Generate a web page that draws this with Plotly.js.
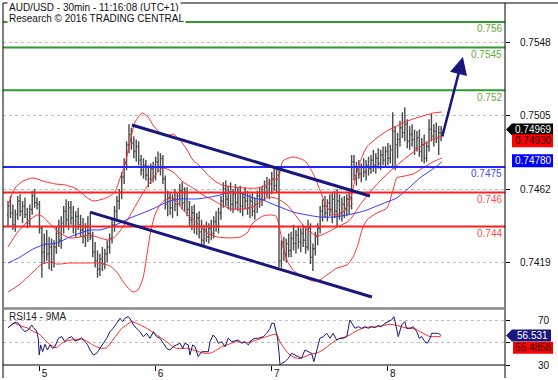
<!DOCTYPE html>
<html><head><meta charset="utf-8">
<script src="https://cdn.plot.ly/plotly-3.0.1.min.js"></script>
<style>html,body{margin:0;padding:0;background:#fff;}#chart{width:558px;height:380px;}</style>
</head><body><div id="chart"></div>
<script>
// ---------- DATA ----------
const dayTickIdx = [13, 61, 109, 157];
const dayLabels = ['5', '6', '7', '8'];
const priceTicks = [0.7419, 0.7462, 0.7505, 0.7548];
const priceTickLabels = ['0.7419', '0.7462', '0.7505', '0.7548'];

const barOpen = [
0.7447,0.7452,0.7448,0.7441,0.7447,0.7455,0.7449,0.7452,0.7447,0.7442,
0.7450,0.7458,0.7454,0.7453,0.7439,0.7425,0.7430,0.7424,0.7428,0.7419,
0.7428,0.7436,0.7432,0.7442,0.7449,0.7444,0.7451,0.7445,0.7440,0.7446,
0.7441,0.7438,0.7434,0.7440,0.7436,0.7434,0.7425,0.7420,0.7415,0.7421,
0.7418,0.7424,0.7428,0.7433,0.7441,0.7449,0.7455,0.7460,0.7469,0.7477,
0.7488,0.7494,0.7489,0.7484,0.7487,0.7479,0.7473,0.7476,0.7470,0.7468,
0.7474,0.7469,0.7478,0.7475,0.7480,0.7468,0.7453,0.7457,0.7451,0.7456,
0.7453,0.7458,0.7461,0.7454,0.7460,0.7450,0.7444,0.7448,0.7440,0.7445,
0.7437,0.7432,0.7438,0.7434,0.7439,0.7436,0.7443,0.7440,0.7448,0.7455,
0.7462,0.7456,0.7460,0.7453,0.7459,0.7454,0.7460,0.7452,0.7457,0.7455,
0.7451,0.7455,0.7449,0.7453,0.7458,0.7456,0.7460,0.7463,0.7460,0.7465,
0.7468,0.7464,0.7470,0.7420,0.7428,0.7424,0.7430,0.7426,0.7433,0.7430,
0.7435,0.7431,0.7436,0.7432,0.7428,0.7439,0.7422,0.7427,0.7434,0.7439,
0.7449,0.7452,0.7448,0.7454,0.7450,0.7456,0.7449,0.7455,0.7448,0.7453,
0.7450,0.7456,0.7452,0.7478,0.7470,0.7474,0.7471,0.7475,0.7472,0.7476,
0.7474,0.7479,0.7476,0.7480,0.7477,0.7482,0.7479,0.7484,0.7480,0.7485,
0.7496,0.7488,0.7491,0.7498,0.7495,0.7500,0.7490,0.7494,0.7491,0.7486,
0.7492,0.7484,0.7488,0.7480,0.7487,0.7497,0.7493,0.7496,0.7492,0.7495];
const barHigh = [
0.7455,0.7458,0.7453,0.7450,0.7458,0.7459,0.7455,0.7457,0.7451,0.7453,
0.7461,0.7462,0.7457,0.7455,0.7440,0.7436,0.7438,0.7434,0.7433,0.7432,
0.7440,0.7444,0.7446,0.7452,0.7456,0.7455,0.7455,0.7452,0.7449,0.7451,
0.7447,0.7445,0.7442,0.7446,0.7448,0.7437,0.7431,0.7426,0.7424,0.7428,
0.7427,0.7432,0.7436,0.7444,0.7452,0.7458,0.7462,0.7472,0.7480,0.7490,
0.7500,0.7498,0.7493,0.7491,0.7490,0.7482,0.7480,0.7479,0.7476,0.7477,
0.7478,0.7481,0.7484,0.7483,0.7482,0.7470,0.7461,0.7460,0.7459,0.7462,
0.7460,0.7465,0.7466,0.7463,0.7463,0.7455,0.7452,0.7453,0.7448,0.7449,
0.7444,0.7441,0.7443,0.7442,0.7444,0.7446,0.7449,0.7451,0.7458,0.7466,
0.7467,0.7464,0.7466,0.7462,0.7465,0.7463,0.7464,0.7460,0.7463,0.7461,
0.7459,0.7460,0.7457,0.7461,0.7463,0.7464,0.7467,0.7469,0.7468,0.7472,
0.7474,0.7474,0.7473,0.7432,0.7434,0.7433,0.7436,0.7437,0.7441,0.7438,
0.7440,0.7439,0.7441,0.7440,0.7444,0.7442,0.7430,0.7437,0.7442,0.7452,
0.7456,0.7458,0.7456,0.7459,0.7460,0.7461,0.7462,0.7459,0.7457,0.7458,
0.7459,0.7460,0.7482,0.7482,0.7478,0.7479,0.7477,0.7480,0.7479,0.7481,
0.7482,0.7485,0.7483,0.7486,0.7485,0.7487,0.7487,0.7489,0.7488,0.7507,
0.7499,0.7495,0.7502,0.7507,0.7510,0.7503,0.7499,0.7500,0.7497,0.7496,
0.7497,0.7492,0.7494,0.7490,0.7503,0.7506,0.7500,0.7501,0.7499,0.7499];
const barLow = [
0.7440,0.7445,0.7438,0.7437,0.7444,0.7446,0.7442,0.7445,0.7439,0.7440,
0.7447,0.7451,0.7450,0.7436,0.7410,0.7418,0.7420,0.7415,0.7414,0.7416,
0.7424,0.7428,0.7427,0.7436,0.7440,0.7438,0.7441,0.7436,0.7434,0.7438,
0.7434,0.7430,0.7428,0.7431,0.7432,0.7422,0.7416,0.7410,0.7411,0.7414,
0.7415,0.7419,0.7424,0.7430,0.7437,0.7443,0.7450,0.7456,0.7465,0.7473,
0.7483,0.7485,0.7480,0.7478,0.7476,0.7470,0.7468,0.7467,0.7463,0.7465,
0.7466,0.7467,0.7472,0.7470,0.7465,0.7450,0.7446,0.7447,0.7445,0.7449,
0.7446,0.7452,0.7450,0.7449,0.7446,0.7440,0.7438,0.7436,0.7435,0.7433,
0.7428,0.7429,0.7431,0.7430,0.7432,0.7433,0.7437,0.7436,0.7444,0.7451,
0.7452,0.7450,0.7449,0.7448,0.7450,0.7449,0.7448,0.7446,0.7450,0.7447,
0.7445,0.7446,0.7444,0.7448,0.7451,0.7452,0.7455,0.7457,0.7456,0.7459,
0.7461,0.7460,0.7416,0.7416,0.7420,0.7419,0.7422,0.7422,0.7426,0.7424,
0.7427,0.7425,0.7428,0.7424,0.7426,0.7418,0.7414,0.7423,0.7429,0.7436,
0.7443,0.7445,0.7443,0.7446,0.7442,0.7445,0.7440,0.7444,0.7443,0.7445,
0.7446,0.7447,0.7450,0.7467,0.7464,0.7468,0.7466,0.7469,0.7467,0.7470,
0.7471,0.7472,0.7471,0.7474,0.7473,0.7476,0.7475,0.7476,0.7477,0.7474,
0.7473,0.7480,0.7487,0.7492,0.7490,0.7486,0.7485,0.7487,0.7482,0.7484,
0.7481,0.7478,0.7477,0.7478,0.7484,0.7490,0.7487,0.7489,0.7482,0.7490];
const barClose = [
0.7452,0.7448,0.7441,0.7447,0.7455,0.7449,0.7452,0.7447,0.7442,0.7450,
0.7458,0.7454,0.7453,0.7439,0.7425,0.7430,0.7424,0.7428,0.7419,0.7428,
0.7436,0.7432,0.7442,0.7449,0.7444,0.7451,0.7445,0.7440,0.7446,0.7441,
0.7438,0.7434,0.7440,0.7436,0.7434,0.7425,0.7420,0.7415,0.7421,0.7418,
0.7424,0.7428,0.7433,0.7441,0.7449,0.7455,0.7460,0.7469,0.7477,0.7488,
0.7494,0.7489,0.7484,0.7487,0.7479,0.7473,0.7476,0.7470,0.7468,0.7474,
0.7469,0.7478,0.7475,0.7480,0.7468,0.7453,0.7457,0.7451,0.7456,0.7453,
0.7458,0.7461,0.7454,0.7460,0.7450,0.7444,0.7448,0.7440,0.7445,0.7437,
0.7432,0.7438,0.7434,0.7439,0.7436,0.7443,0.7440,0.7448,0.7455,0.7462,
0.7456,0.7460,0.7453,0.7459,0.7454,0.7460,0.7452,0.7457,0.7455,0.7451,
0.7455,0.7449,0.7453,0.7458,0.7456,0.7460,0.7463,0.7460,0.7465,0.7468,
0.7464,0.7470,0.7420,0.7428,0.7424,0.7430,0.7426,0.7433,0.7430,0.7435,
0.7431,0.7436,0.7432,0.7428,0.7439,0.7422,0.7427,0.7434,0.7439,0.7449,
0.7452,0.7448,0.7454,0.7450,0.7456,0.7449,0.7455,0.7448,0.7453,0.7450,
0.7456,0.7452,0.7478,0.7470,0.7474,0.7471,0.7475,0.7472,0.7476,0.7474,
0.7479,0.7476,0.7480,0.7477,0.7482,0.7479,0.7484,0.7480,0.7485,0.7496,
0.7488,0.7491,0.7498,0.7495,0.7500,0.7490,0.7494,0.7491,0.7486,0.7492,
0.7484,0.7488,0.7480,0.7487,0.7497,0.7493,0.7496,0.7492,0.7495,0.74969];

// Bollinger bands
const bbUpperX = [0,2.9,6.2,10.3,14.5,19.4,23.6,28.5,31.8,35.1,39.3,42.1,44.2,46.3,48.3,50.4,52.5,55.4,57.9,59.9,62.8,65.7,68.2,71.1,74.0,76.4,79.3,82.2,85.5,88.4,93.0,97.9,102.9,106.6,109.1,111.6,113.6,117.8,122.7,126.0,128.9,131.8,135.1,138.4,141.3,143.4,145.5,148.3,152.5,156.6,159.9,163.2,167.4,171.5,175.6,179.3];
const bbUpper = [0.74527,0.74626,0.74667,0.74685,0.74667,0.74650,0.74644,0.74620,0.74579,0.74550,0.74562,0.74579,0.74603,0.74685,0.74761,0.74896,0.75013,0.75066,0.75043,0.74996,0.74949,0.74931,0.74943,0.74908,0.74849,0.74790,0.74755,0.74708,0.74667,0.74644,0.74632,0.74626,0.74626,0.74644,0.74673,0.74680,0.74785,0.74808,0.74785,0.74714,0.74615,0.74515,0.74468,0.74485,0.74556,0.74673,0.74779,0.74867,0.74920,0.74961,0.74984,0.75008,0.75031,0.75049,0.75066,0.75072];
const bbMidX = [0,3.7,7.9,12.0,14.0,17.4,21.5,25.6,29.8,33.9,38.0,42.1,45.0,48.3,51.7,55.8,59.9,64.0,68.2,72.3,76.4,80.6,84.7,88.8,93.0,97.1,101.2,105.4,108.3,111.6,115.3,119.4,123.6,128.1,132.2,136.8,140.9,145.5,150.0,155.0,159.9,164.9,169.8,174.4,179.3];
const bbMid = [0.74280,0.74362,0.74427,0.74468,0.74462,0.74415,0.74362,0.74333,0.74339,0.74351,0.74333,0.74321,0.74351,0.74415,0.74497,0.74597,0.74685,0.74744,0.74720,0.74662,0.74626,0.74585,0.74556,0.74521,0.74503,0.74503,0.74515,0.74556,0.74573,0.74562,0.74527,0.74456,0.74380,0.74345,0.74368,0.74403,0.74433,0.74527,0.74609,0.74685,0.74749,0.74808,0.74861,0.74905,0.74930];
const bbLowerX = [0,5.0,10.3,14.0,17.4,20.2,25.6,31.8,38.0,42.1,45.0,47.1,49.2,51.7,53.7,55.8,57.4,58.7,60.7,62.8,64.9,67.8,70.2,72.3,75.2,78.1,82.2,86.4,91.7,95.9,98.8,101.2,105.4,108.3,110.7,112.4,113.6,115.3,117.8,121.9,126.0,128.9,131.8,136.0,140.1,142.6,144.6,146.3,148.3,152.5,156.6,159.1,160.7,164.0,167.4,171.5,175.6,179.3];
const bbLower = [0.74016,0.74063,0.74133,0.74180,0.74192,0.74180,0.74186,0.74186,0.74186,0.74169,0.74133,0.74087,0.74046,0.74016,0.74028,0.74098,0.74233,0.74351,0.74468,0.74527,0.74556,0.74568,0.74538,0.74497,0.74456,0.74421,0.74362,0.74339,0.74333,0.74339,0.74362,0.74421,0.74462,0.74468,0.74462,0.74380,0.74292,0.74203,0.74145,0.74104,0.74081,0.74087,0.74116,0.74157,0.74175,0.74221,0.74292,0.74380,0.74439,0.74480,0.74509,0.74614,0.74685,0.74697,0.74708,0.74744,0.74779,0.74802];
// blue moving average
const maX = [0,5.0,10.3,14.5,20.2,25.6,29.8,33.9,38.0,42.1,46.3,50.4,55.8,61.6,65.7,71.1,78.1,83.5,87.6,91.7,95.9,101.2,105.4,108.3,112.4,117.8,123.6,128.9,134.3,140.1,144.2,148.3,152.5,156.6,160.7,166.1,170.2,174.4,177.3,179.3];
const maVal = [0.74186,0.74221,0.74268,0.74292,0.74304,0.74339,0.74362,0.74380,0.74380,0.74397,0.74421,0.74450,0.74480,0.74515,0.74544,0.74562,0.74562,0.74573,0.74585,0.74603,0.74597,0.74568,0.74556,0.74538,0.74515,0.74485,0.74468,0.74456,0.74456,0.74468,0.74480,0.74497,0.74521,0.74544,0.74568,0.74632,0.74685,0.74726,0.74755,0.74780];

// RSI14 and its 9-period MA
const rsiX = [0,1.5,2.9,4.3,5.6,7.0,8.4,9.8,10.5,11.8,12.5,12.9,13.5,14.3,15.3,16.3,17.4,18.4,19.4,20.8,22.2,23.5,24.9,26.3,27.7,29.1,30.4,31.8,32.8,33.9,35.3,36.6,38.0,39.4,40.8,42.1,43.5,44.9,46.3,47.4,48.3,49.7,51.1,51.8,53.2,54.5,55.9,57.3,58.7,60.1,61.4,62.8,64.2,65.6,66.9,68.3,69.7,71.1,72.2,73.1,74.5,75.2,76.3,77.3,78.6,80.0,81.4,82.8,83.5,84.8,86.0,86.9,88.3,89.7,91.0,92.4,93.8,95.2,96.5,97.9,99.3,100.7,102.1,103.4,105.5,106.9,108.3,109.0,110.0,110.7,111.4,112.1,112.4,113.1,114.5,115.8,117.2,118.6,120.0,121.3,122.7,124.1,125.5,126.4,127.5,128.9,130.3,131.7,133.1,134.4,135.8,137.2,138.6,140.0,141.3,142.4,143.4,144.8,146.1,147.5,148.9,150.3,151.6,153.0,154.4,155.8,157.2,158.5,159.5,160.6,161.3,162.7,164.0,164.7,166.1,167.5,168.9,170.0,170.9,172.3,173.3,174.4,175.1,176.4,177.8,179];
const rsiVal = [63.7,66.1,68.5,67.6,63.1,60.1,61.6,66.1,63.7,60.7,54.1,39.0,48.1,42.0,48.6,43.5,48.1,45.0,46.5,54.1,55.6,51.1,54.1,55.6,51.7,52.6,54.6,51.1,48.6,43.5,39.0,40.5,45.0,49.6,54.1,60.1,63.1,67.6,72.1,69.1,72.1,73.6,69.7,66.1,63.1,60.1,55.6,58.6,54.1,60.1,55.6,54.1,49.6,45.0,43.5,46.5,48.1,49.6,45.0,49.6,48.1,39.0,48.1,46.5,37.5,42.0,42.0,42.0,51.1,57.1,54.1,49.6,51.1,46.5,54.1,51.1,51.7,52.6,49.6,51.1,48.1,52.6,54.1,54.1,55.6,58.6,63.1,67.6,67.6,60.1,54.1,39.0,30.0,31.5,33.0,36.0,40.5,39.0,37.5,36.0,43.5,42.0,40.5,33.0,42.0,54.1,55.6,58.6,54.1,58.6,52.6,54.1,54.1,55.6,70.6,66.1,63.1,64.6,63.1,64.6,63.1,64.6,63.7,65.5,64.6,67.6,69.1,70.6,73.6,63.1,55.6,66.1,69.1,63.1,63.1,64.6,60.1,54.1,55.6,51.1,49.6,54.1,58.6,58.6,58.6,56.531];
const rsiMaX = [0.1,2.2,4.3,6.3,8.4,10.5,12.5,14.6,16.7,18.7,20.1,22.2,24.2,26.3,28.4,30.4,32.5,34.6,36.6,38.7,40.8,42.8,44.9,47.0,49.0,51.1,53.2,55.2,57.3,59.4,61.4,63.5,65.6,67.6,69.7,71.8,73.8,75.9,78.0,80.0,82.1,84.2,86.2,88.3,90.4,92.4,94.5,96.5,98.6,100.7,102.8,104.8,106.9,109.0,111.0,112.4,114.5,116.5,118.6,120.7,122.7,124.8,126.9,128.9,131.0,133.1,135.1,137.2,139.3,141.3,143.4,145.4,147.5,149.6,151.6,153.7,155.8,157.9,159.9,162.0,164.0,166.1,168.2,170.2,172.3,174.4,176.4,178.8];
const rsiMaVal = [63.7,67.6,66.1,64.6,63.1,60.1,58.6,54.1,49.6,46.5,45.6,49.6,51.7,52.6,53.2,53.2,51.7,48.6,46.5,45.0,45.6,51.1,57.1,63.1,66.1,69.1,67.6,65.5,63.1,60.1,57.1,54.1,51.1,47.4,45.0,45.0,45.0,44.1,42.6,41.1,40.5,41.1,43.5,46.5,48.1,49.6,51.1,50.5,50.2,51.1,52.6,54.1,55.6,57.1,57.7,51.0,44.0,39.0,36.5,36.0,37.5,39.6,40.5,42.0,45.0,48.6,51.7,54.1,55.3,57.1,60.1,62.2,63.7,64.3,64.3,64.9,66.1,66.7,66.1,64.9,63.7,63.1,62.5,60.1,57.7,55.6,55.6,55.4858];

// key levels
const levelValues = [0.756, 0.7545, 0.752, 0.7475, 0.746, 0.744];
const levelLabels = ['0.756', '0.7545', '0.752', '0.7475', '0.746', '0.744'];
const levelKinds = ['res', 'res', 'res', 'pivot', 'sup', 'sup'];

// drawn channel lines and the target arrow (bar index, price)
const trendTopX = [51.2, 149.6];
const trendTopY = [0.74996, 0.74579];
const trendBotX = [33.9, 150.4];
const trendBotY = [0.74485, 0.73987];
const arrowX = [179.3, 188.0];
const arrowY = [0.74920, 0.75395];

// last values shown in the right-hand boxes
const lastPrice = 0.74969, lastPriceLabel = '0.74969';
const lastMid = 0.74930, lastMidLabel = '0.74930';
const lastMa = 0.74780, lastMaLabel = '0.74780';
const lastRsi = 56.531, lastRsiLabel = '56.531';
const lastRsiMa = 55.4858, lastRsiMaLabel = '55.4858';

// ---------- STYLE / LAYOUT ----------
const W = 558, H = 380, ML = 3, MR = 53, MT = 3, MB = 15;
const PW = W - ML - MR, PH = H - MT - MB;
const px = v => (v - ML) / PW;          // pixel -> paper x
const py = v => (H - MB - v) / PH;      // pixel -> paper y
const FONT = 'Liberation Sans, Arial, sans-serif';
const levelStyle = {
  res: {line: '#2f9b2f', text: '#6aa83a'},
  pivot: {line: '#2525ff', text: '#4545ff'},
  sup: {line: '#ff1f1f', text: '#ff4d4d'}
};
const navy = '#17177d';
const barIndex = barClose.map((_, i) => i);

const bbLine = {color: '#ff3030', width: 1, shape: 'spline', smoothing: 0.6};
const traces = [
  {type: 'ohlc', x: barIndex, open: barOpen, high: barHigh, low: barLow, close: barClose,
   xaxis: 'x', yaxis: 'y', tickwidth: 0.45, hoverinfo: 'skip', showlegend: false,
   increasing: {line: {color: '#4a4a4a', width: 1.4}},
   decreasing: {line: {color: '#4a4a4a', width: 1.4}}},
  {type: 'scatter', mode: 'lines', x: bbUpperX, y: bbUpper, line: bbLine, xaxis: 'x', yaxis: 'y', hoverinfo: 'skip', showlegend: false},
  {type: 'scatter', mode: 'lines', x: bbMidX, y: bbMid, line: bbLine, xaxis: 'x', yaxis: 'y', hoverinfo: 'skip', showlegend: false},
  {type: 'scatter', mode: 'lines', x: bbLowerX, y: bbLower, line: bbLine, xaxis: 'x', yaxis: 'y', hoverinfo: 'skip', showlegend: false},
  {type: 'scatter', mode: 'lines', x: maX, y: maVal, line: {color: '#3a3aff', width: 1, shape: 'spline', smoothing: 0.6}, xaxis: 'x', yaxis: 'y', hoverinfo: 'skip', showlegend: false},
  {type: 'scatter', mode: 'lines', x: rsiMaX, y: rsiMaVal, line: {color: '#ff2020', width: 1, shape: 'spline', smoothing: 0.5}, xaxis: 'x', yaxis: 'y2', hoverinfo: 'skip', showlegend: false},
  {type: 'scatter', mode: 'lines', x: rsiX, y: rsiVal, line: {color: navy, width: 1}, xaxis: 'x', yaxis: 'y2', hoverinfo: 'skip', showlegend: false}
];

const shapes = [];
// key level lines
levelValues.forEach((v, i) => {
  shapes.push({type: 'line', xref: 'paper', yref: 'y', x0: 0, x1: 1, y0: v, y1: v,
    line: {color: levelStyle[levelKinds[i]].line, width: 2}, layer: 'above'});
});
// channel lines
shapes.push({type: 'line', xref: 'x', yref: 'y', x0: trendTopX[0], x1: trendTopX[1], y0: trendTopY[0], y1: trendTopY[1], line: {color: navy, width: 3}, layer: 'above'});
shapes.push({type: 'line', xref: 'x', yref: 'y', x0: trendBotX[0], x1: trendBotX[1], y0: trendBotY[0], y1: trendBotY[1], line: {color: navy, width: 3}, layer: 'above'});
// frame
shapes.push({type: 'line', xref: 'paper', yref: 'paper', x0: 0, x1: px(558), y0: 1, y1: 1, line: {color: '#000', width: 1}});
shapes.push({type: 'line', xref: 'paper', yref: 'paper', x0: 0, x1: 0, y0: py(378), y1: 1, line: {color: '#000', width: 1}});
shapes.push({type: 'line', xref: 'paper', yref: 'paper', x0: 1, x1: 1, y0: py(378), y1: 1, line: {color: '#000', width: 1}});
shapes.push({type: 'line', xref: 'paper', yref: 'paper', x0: 0, x1: 1, y0: 0, y1: 0, line: {color: '#000', width: 1}});
shapes.push({type: 'line', xref: 'paper', yref: 'paper', x0: 0, x1: 1, y0: py(308.5), y1: py(308.5), line: {color: '#8a8a8a', width: 2.5}});
// value boxes
function box(yref, yv, path, fill) {
  shapes.push({type: 'path', xref: 'paper', yref: yref, xsizemode: 'pixel', xanchor: 1,
    ysizemode: 'pixel', yanchor: yv, path: path, fillcolor: fill, line: {width: 0}, layer: 'above'});
}
box('y', lastPrice, 'M 1,0 L 7,6 L 48,6 L 48,-6 L 7,-6 Z', '#000000');
box('y', lastMid, 'M 7,2 L 48,2 L 48,-11 L 7,-11 Z', '#ff0000');
box('y', lastMa, 'M 7,7.5 L 48,7.5 L 48,-5.5 L 7,-5.5 Z', '#0000ff');
box('y2', lastRsi, 'M 1,0 L 7,6 L 46,6 L 46,-6 L 7,-6 Z', navy);
box('y2', lastRsiMa, 'M 8,-5 L 48,-5 L 48,-17 L 8,-17 Z', '#ff0000');

const annotations = [];
annotations.push({xref: 'paper', yref: 'paper', x: px(7), y: py(7.5), xanchor: 'left', yanchor: 'middle',
  text: 'AUD/USD - 30min - 11:16:08 (UTC+1)', showarrow: false, font: {size: 10, color: '#111'}, bgcolor: '#fff', borderpad: 1});
annotations.push({xref: 'paper', yref: 'paper', x: px(7), y: py(18.5), xanchor: 'left', yanchor: 'middle',
  text: 'Research © 2016 TRADING CENTRAL', showarrow: false, font: {size: 10, color: '#111'}, bgcolor: '#fff', borderpad: 1});
annotations.push({xref: 'paper', yref: 'paper', x: px(7), y: py(316.5), xanchor: 'left', yanchor: 'middle',
  text: 'RSI14 - 9MA', showarrow: false, font: {size: 10, color: '#222'}});
levelValues.forEach((v, i) => {
  annotations.push({xref: 'paper', yref: 'y', x: 1, xshift: -1, y: v, yshift: -7, xanchor: 'right', yanchor: 'middle',
    text: levelLabels[i], showarrow: false, font: {size: 10, color: levelStyle[levelKinds[i]].text}});
});
function boxText(yref, yv, txt, color, xs, ys) {
  annotations.push({xref: 'paper', yref: yref, x: 1, xshift: xs, y: yv, yshift: ys, xanchor: 'center', yanchor: 'middle',
    text: txt, showarrow: false, font: {size: 10, color: color}});
}
boxText('y', lastPrice, lastPriceLabel, '#fff', 28, 0);
boxText('y', lastMid, lastMidLabel, '#2a0000', 28, -4.5);
boxText('y', lastMa, lastMaLabel, '#fff', 28, 1);
boxText('y2', lastRsi, lastRsiLabel, '#fff', 27, 0);
boxText('y2', lastRsiMa, lastRsiMaLabel, '#1a0000', 28, -11);
// target arrow
annotations.push({xref: 'x', yref: 'y', axref: 'x', ayref: 'y', x: arrowX[1], y: arrowY[1], ax: arrowX[0], ay: arrowY[0],
  text: '', showarrow: true, arrowhead: 2, arrowsize: 1.4, arrowwidth: 2.5, arrowcolor: navy, standoff: 0});

const layout = {
  width: W, height: H,
  margin: {l: ML, r: MR, t: MT, b: MB, pad: 0},
  paper_bgcolor: '#fff', plot_bgcolor: '#fff',
  font: {family: FONT, size: 10, color: '#111'},
  showlegend: false,
  xaxis: {range: [-2.07, 205.4], anchor: 'y2', tickmode: 'array', tickvals: dayTickIdx, ticktext: dayLabels,
    ticks: 'outside', ticklen: 5, tickcolor: '#000', tickwidth: 1, showgrid: false, zeroline: false, showline: false,
    rangeslider: {visible: false}, tickfont: {size: 10, color: '#111'}, ticklabelshift: 5, ticklabelstandoff: -6, fixedrange: true},
  yaxis: {domain: [py(308), 1], range: [0.739223, 0.757114], side: 'right', anchor: 'x',
    tickmode: 'array', tickvals: priceTicks, ticktext: priceTickLabels,
    ticks: 'outside', ticklen: 4, tickcolor: '#000', showgrid: true, gridcolor: '#bdbdbd', griddash: 'dot', gridwidth: 1,
    zeroline: false, showline: false, tickfont: {size: 10, color: '#111'}, ticklabelstandoff: 8, fixedrange: true},
  yaxis2: {domain: [0, py(309)], range: [30, 80.5], side: 'right', anchor: 'x',
    tickmode: 'array', tickvals: [30, 50, 70], ticktext: ['30', '', '70'],
    ticks: 'outside', ticklen: 4, tickcolor: '#000', showgrid: true, gridcolor: '#bdbdbd', griddash: 'dot', gridwidth: 1,
    zeroline: false, showline: false, tickfont: {size: 10, color: '#111'}, ticklabelstandoff: 26, fixedrange: true},
  shapes: shapes,
  annotations: annotations
};
Plotly.newPlot('chart', traces, layout, {staticPlot: true, displayModeBar: false});
</script>
</body></html>
